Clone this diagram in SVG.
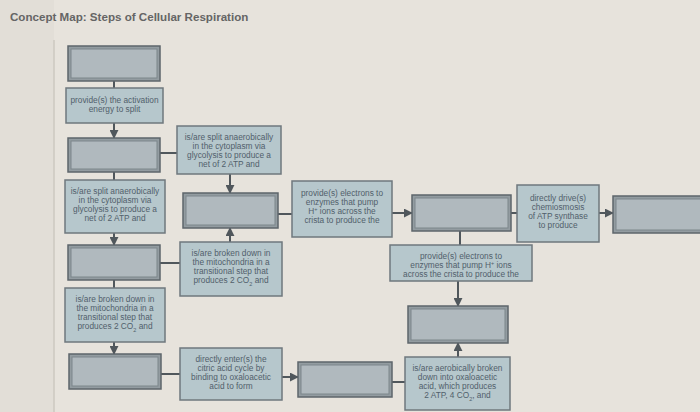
<svg xmlns="http://www.w3.org/2000/svg" width="700" height="412" viewBox="0 0 700 412">
<style>
.t{font-family:"Liberation Sans",Arial,sans-serif;font-size:8.3px;fill:#51606b;text-anchor:middle}
.title{font-family:"Liberation Sans",Arial,sans-serif;font-size:11.6px;font-weight:bold;fill:#656565}
.tb{fill:#b6c7cc;stroke:#6f787d;stroke-width:1.5}
.eo{fill:#939ca1;stroke:#5e666b;stroke-width:1.5}
.ei{fill:#b0b9be;stroke:#7d868b;stroke-width:1}
.c{stroke:#50575c;stroke-width:2;fill:none}
</style>
<defs>
<marker id="ah" viewBox="0 0 10 10" refX="9" refY="5" markerWidth="4.5" markerHeight="4.5" orient="auto" markerUnits="strokeWidth">
<path d="M0,0 L10,5 L0,10 z" fill="#50575c"/>
</marker>
</defs>
<rect width="700" height="412" fill="#e7e3dc"/>
<rect x="0" y="0" width="54" height="412" fill="#e2ded7"/>
<line x1="54" y1="40" x2="54" y2="412" stroke="#cdc8c0" stroke-width="1.5"/>
<text class="title" x="10" y="21">Concept Map: Steps of Cellular Respiration</text>

<g id="connectors">
<line class="c" x1="114" y1="81" x2="114" y2="88"/>
<line class="c" x1="114" y1="123" x2="114" y2="138" marker-end="url(#ah)"/>
<line class="c" x1="114" y1="172" x2="114" y2="180"/>
<line class="c" x1="160" y1="153" x2="177" y2="153"/>
<line class="c" x1="114" y1="233" x2="114" y2="245" marker-end="url(#ah)"/>
<line class="c" x1="114" y1="280" x2="114" y2="288"/>
<line class="c" x1="160" y1="263" x2="180" y2="263"/>
<line class="c" x1="114" y1="342" x2="114" y2="354" marker-end="url(#ah)"/>
<line class="c" x1="160" y1="374" x2="180" y2="374"/>
<line class="c" x1="230" y1="174" x2="230" y2="193" marker-end="url(#ah)"/>
<line class="c" x1="230" y1="242" x2="230" y2="228" marker-end="url(#ah)"/>
<line class="c" x1="278" y1="214" x2="292" y2="214"/>
<line class="c" x1="392" y1="213" x2="412" y2="213" marker-end="url(#ah)"/>
<line class="c" x1="511" y1="213" x2="517" y2="213"/>
<line class="c" x1="599" y1="213" x2="613" y2="213" marker-end="url(#ah)"/>
<line class="c" x1="460" y1="231" x2="460" y2="245"/>
<line class="c" x1="458" y1="281" x2="458" y2="306" marker-end="url(#ah)"/>
<line class="c" x1="458" y1="357" x2="458" y2="343" marker-end="url(#ah)"/>
<line class="c" x1="282" y1="377" x2="298" y2="377" marker-end="url(#ah)"/>
<line class="c" x1="392" y1="382" x2="405" y2="382"/>
</g>

<g id="A"><rect class="eo" x="68" y="46" width="92" height="35"/><rect class="ei" x="71" y="49" width="86" height="29"/></g>
<g id="B"><rect class="tb" x="66" y="88" width="97" height="35"/>
<text class="t" x="114.5" y="103">provide(s) the activation</text><text class="t" x="114.5" y="112">energy to split</text></g>
<g id="C"><rect class="eo" x="68" y="138" width="92" height="34"/><rect class="ei" x="71" y="141" width="86" height="28"/></g>
<g id="E"><rect class="tb" x="65" y="180" width="100" height="53"/>
<text class="t" x="115" y="194">is/are split anaerobically</text><text class="t" x="115" y="203">in the cytoplasm via</text><text class="t" x="115" y="212">glycolysis to produce a</text><text class="t" x="115" y="221">net of 2 ATP and</text></g>
<g id="F"><rect class="eo" x="68" y="245" width="92" height="35"/><rect class="ei" x="71" y="248" width="86" height="29"/></g>
<g id="G2"><rect class="tb" x="65" y="288" width="100" height="54"/>
<text class="t" x="115" y="302">is/are broken down in</text><text class="t" x="115" y="311">the mitochondria in a</text><text class="t" x="115" y="320">transitional step that</text><text class="t" x="115" y="329">produces 2 CO<tspan font-size="5.5" baseline-shift="sub">2</tspan> and</text></g>
<g id="R"><rect class="eo" x="69" y="354" width="92" height="35"/><rect class="ei" x="72" y="357" width="86" height="29"/></g>

<g id="D"><rect class="tb" x="177" y="126" width="104" height="48"/>
<text class="t" x="229" y="140">is/are split anaerobically</text><text class="t" x="229" y="149">in the cytoplasm via</text><text class="t" x="229" y="158">glycolysis to produce a</text><text class="t" x="229" y="167">net of 2 ATP and</text></g>
<g id="H"><rect class="eo" x="183" y="193" width="95" height="35"/><rect class="ei" x="186" y="196" width="89" height="29"/></g>
<g id="G"><rect class="tb" x="180" y="242" width="102" height="54"/>
<text class="t" x="231" y="256">is/are broken down in</text><text class="t" x="231" y="265">the mitochondria in a</text><text class="t" x="231" y="274">transitional step that</text><text class="t" x="231" y="283">produces 2 CO<tspan font-size="5.5" baseline-shift="sub">2</tspan> and</text></g>
<g id="Q"><rect class="tb" x="180" y="348" width="102" height="52"/>
<text class="t" x="231" y="362">directly enter(s) the</text><text class="t" x="231" y="371">citric acid cycle by</text><text class="t" x="231" y="380">binding to oxaloacetic</text><text class="t" x="231" y="389">acid to form</text></g>

<g id="I"><rect class="tb" x="292" y="181" width="100" height="56"/>
<text class="t" x="342" y="196">provide(s) electrons to</text><text class="t" x="342" y="205">enzymes that pump</text><text class="t" x="342" y="214">H<tspan font-size="5.5" baseline-shift="super">+</tspan> ions across the</text><text class="t" x="342" y="223">crista to produce the</text></g>
<g id="J"><rect class="eo" x="412" y="195" width="99" height="36"/><rect class="ei" x="415" y="198" width="93" height="30"/></g>
<g id="K"><rect class="tb" x="517" y="185" width="82" height="57"/>
<text class="t" x="558" y="201">directly drive(s)</text><text class="t" x="558" y="210">chemiosmosis</text><text class="t" x="558" y="219">of ATP synthase</text><text class="t" x="558" y="228">to produce</text></g>
<g id="L"><rect class="eo" x="613" y="196" width="92" height="37"/><rect class="ei" x="616" y="199" width="86" height="31"/></g>
<g id="M"><rect class="tb" x="390" y="245" width="142" height="36"/>
<text class="t" x="461" y="259">provide(s) electrons to</text><text class="t" x="461" y="268">enzymes that pump H<tspan font-size="5.5" baseline-shift="super">+</tspan> ions</text><text class="t" x="461" y="277">across the crista to produce the</text></g>
<g id="N"><rect class="eo" x="408" y="306" width="100" height="37"/><rect class="ei" x="411" y="309" width="94" height="31"/></g>
<g id="P"><rect class="eo" x="298" y="362" width="94" height="35"/><rect class="ei" x="301" y="365" width="88" height="29"/></g>
<g id="O"><rect class="tb" x="405" y="357" width="105" height="53"/>
<text class="t" x="457.5" y="371">is/are aerobically broken</text><text class="t" x="457.5" y="380">down into oxaloacetic</text><text class="t" x="457.5" y="389">acid, which produces</text><text class="t" x="457.5" y="398">2 ATP, 4 CO<tspan font-size="5.5" baseline-shift="sub">2</tspan>, and</text></g>
</svg>
